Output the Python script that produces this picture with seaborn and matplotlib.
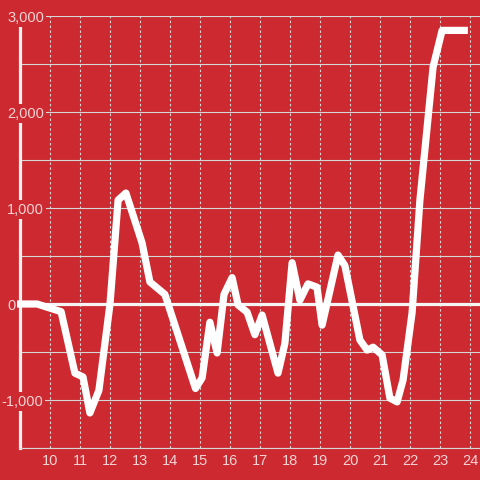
import numpy as np
import pandas as pd
import matplotlib
matplotlib.use("Agg")
import matplotlib.pyplot as plt
import matplotlib.transforms as mtransforms
import seaborn as sns

# ---- data ----
hours = [8.9, 9.57, 10.37, 10.83, 11.1, 11.33, 11.63, 12.0, 12.27, 12.53,
         13.07, 13.33, 13.83, 14.85, 15.07, 15.33, 15.57, 15.8, 16.07, 16.27,
         16.57, 16.83, 17.07, 17.6, 17.83, 18.07, 18.33, 18.6, 18.9, 19.07,
         19.6, 19.83, 20.33, 20.57, 20.77, 21.07, 21.33, 21.57, 21.77, 22.07,
         22.33, 22.77, 23.07, 23.93]
values = [0, 0, -80, -720, -760, -1135, -900, 0, 1083, 1156,
          635, 230, 100, -880, -770, -190, -510, 100, 275, -10,
          -85, -320, -115, -720, -410, 430, 40, 210, 175, -220,
          510, 400, -375, -480, -450, -530, -980, -1020, -790, -90,
          1080, 2470, 2850, 2850]
x_ticks = list(range(10, 25))
x_tick_labels = [str(h) for h in x_ticks]
y_label_values = [3000, 2000, 1000, 0, -1000]
y_labels = ["3,000", "2,000", "1,000", "0", "-1,000"]

BG = "#cc2a30"
GRID = "#d6d6d6"
TXT = "#f3d3d4"

sns.set_style("white")
plt.rcParams["font.family"] = ["Liberation Sans", "DejaVu Sans"]

fig = plt.figure(figsize=(4.8, 4.8), dpi=100, facecolor=BG)
ax = fig.add_axes([20 / 480, 32 / 480, 460 / 480, 432 / 480], facecolor=BG)

df = pd.DataFrame({"hour": hours, "value": values})
sns.lineplot(data=df, x="hour", y="value", ax=ax, color="white", lw=5.2,
             estimator=None, sort=False, zorder=4)
ln = ax.lines[-1]
ln.set_solid_joinstyle("round")
ln.set_solid_capstyle("butt")
ln.set_clip_on(False)

ax.axhline(0, color="#f4f4f4", lw=2.3, zorder=2)

ax.set_xlim(9, 9 + 460 / 30)
ax.set_ylim(-1500, 3000)
ax.set_yticks(np.arange(-1500, 3001, 500))
ax.set_xticks(x_ticks, x_tick_labels)
ax.set_axisbelow(True)
ax.grid(axis="y", color=GRID, lw=0.8, ls="-")
ax.grid(axis="x", color=GRID, lw=0.8, ls=(0, (2.2, 2.2)))
ax.tick_params(axis="y", left=False, labelleft=False)
ax.tick_params(axis="x", bottom=False, labelcolor=TXT, labelsize=10.5, pad=1)
ax.set_xlabel("")
ax.set_ylabel("")

for s in ["top", "right"]:
    ax.spines[s].set_visible(False)
ax.spines["left"].set_color("#f2f2f2")
ax.spines["left"].set_linewidth(2.3)
ax.spines["bottom"].set_color(GRID)
ax.spines["bottom"].set_linewidth(0.8)

trans = mtransforms.blended_transform_factory(fig.transFigure, ax.transData)
for v, lab in zip(y_label_values, y_labels):
    if lab.startswith("-"):
        x, ha = 43 / 480, "right"
    else:
        x, ha = 7 / 480, "left"
    ax.text(x, v, lab, transform=trans, ha=ha, va="center_baseline",
            color=TXT, fontsize=10.5, zorder=6,
            bbox=dict(boxstyle="square,pad=0.15", fc=BG, ec="none"))

fig.savefig("out.png", dpi=100, facecolor=BG)
